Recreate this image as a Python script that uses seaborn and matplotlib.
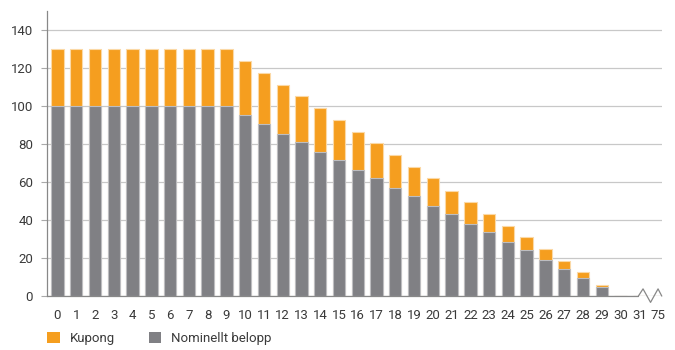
import matplotlib
matplotlib.use("Agg")
import matplotlib.pyplot as plt
import seaborn as sns
import pandas as pd
import numpy as np
from matplotlib.patches import Patch

categories = [str(i) for i in range(32)] + ["75"]
nominellt = [100, 100, 100, 100, 100, 100, 100, 100, 100, 100,
             95, 90.5, 85.5, 81, 76, 71.5, 66.5, 62, 57, 52.5,
             47.5, 43, 38, 33.5, 28.5, 24, 19, 14.5, 9.5, 5,
             0, 0, 0]
kupong = [30, 30, 30, 30, 30, 30, 30, 30, 30, 30,
          28.5, 27, 25.5, 24, 23, 21, 20, 18.5, 17, 15.5,
          14.5, 12.5, 11.5, 9.5, 8.5, 7, 6, 4, 3, 1,
          0, 0, 0]
yticks = [0, 20, 40, 60, 80, 100, 120, 140]

ORANGE = "#F59E1F"
GRAY = "#808084"
GRID = "#c8c8c8"
TEXT = "#3a3a3a"

df = pd.DataFrame({"år": categories, "Nominellt belopp": nominellt, "Kupong": kupong})
df["Total"] = df["Nominellt belopp"] + df["Kupong"]

sns.set_theme(style="white")
plt.rcParams["font.family"] = ["Roboto", "DejaVu Sans"]

fig = plt.figure(figsize=(6.75, 3.5), dpi=100)
ax = fig.add_axes([0.0696, 0.154, 0.9114, 0.815])

sns.barplot(data=df, x="år", y="Total", order=categories, color=ORANGE,
            saturation=1, width=0.66, edgecolor="#fbd9a6", linewidth=0.8, ax=ax, zorder=3)
sns.barplot(data=df, x="år", y="Nominellt belopp", order=categories, color=GRAY,
            saturation=1, width=0.66, edgecolor="#bdbdc0", linewidth=0.8, ax=ax, zorder=3)

n = len(categories)
ax.set_xlim(-0.56, n - 1 + 0.22)
ax.set_ylim(0, 150)
ax.set_yticks(yticks)
ax.set_yticklabels([str(v) for v in yticks], color=TEXT, fontsize=9.5)
ax.yaxis.grid(True, color=GRID, linewidth=0.9, zorder=0)
ax.set_axisbelow(True)
ax.set_xlabel("")
ax.set_ylabel("")

ax.set_xticks(range(n))
ax.set_xticklabels(categories, color=TEXT, fontsize=9.5)
ax.tick_params(axis="x", which="major", length=0, pad=9)
ax.set_xticks(np.arange(-0.5, 31, 1.0), minor=True)
ax.tick_params(axis="x", which="minor", length=5, width=0.8, color="#aaaaaa", direction="out")
ax.tick_params(axis="y", which="major", length=4, width=0.8, color="#aaaaaa", pad=6, left=True)

for s in ["top", "right", "bottom"]:
    ax.spines[s].set_visible(False)
ax.spines["left"].set_color("#888888")
ax.spines["left"].set_linewidth(0.9)

# bottom axis line with break (zigzag) before the last category
brk = n - 2 - 0.05
ax.plot([-0.56, brk], [0, 0], color="#888888", lw=0.9, clip_on=False, zorder=4)
zx = [brk, brk + 0.25, brk + 0.65, brk + 1.05, brk + 1.25]
zy = [0, 3.8, -3.3, 3.8, 0]
ax.plot(zx, zy, color="#888888", lw=0.9, clip_on=False, zorder=4)

handles = [Patch(facecolor=ORANGE, edgecolor="none", label="Kupong"),
           Patch(facecolor=GRAY, edgecolor="none", label="Nominellt belopp")]
fig.legend(handles=handles, loc="lower left", bbox_to_anchor=(47 / 675, 5 / 350), ncol=2,
           frameon=False, fontsize=9.5, handlelength=0.95, handleheight=0.95,
           handletextpad=0.75, columnspacing=2.6, labelcolor=TEXT,
           borderpad=0, borderaxespad=0)

fig.savefig("out.png", dpi=100)
